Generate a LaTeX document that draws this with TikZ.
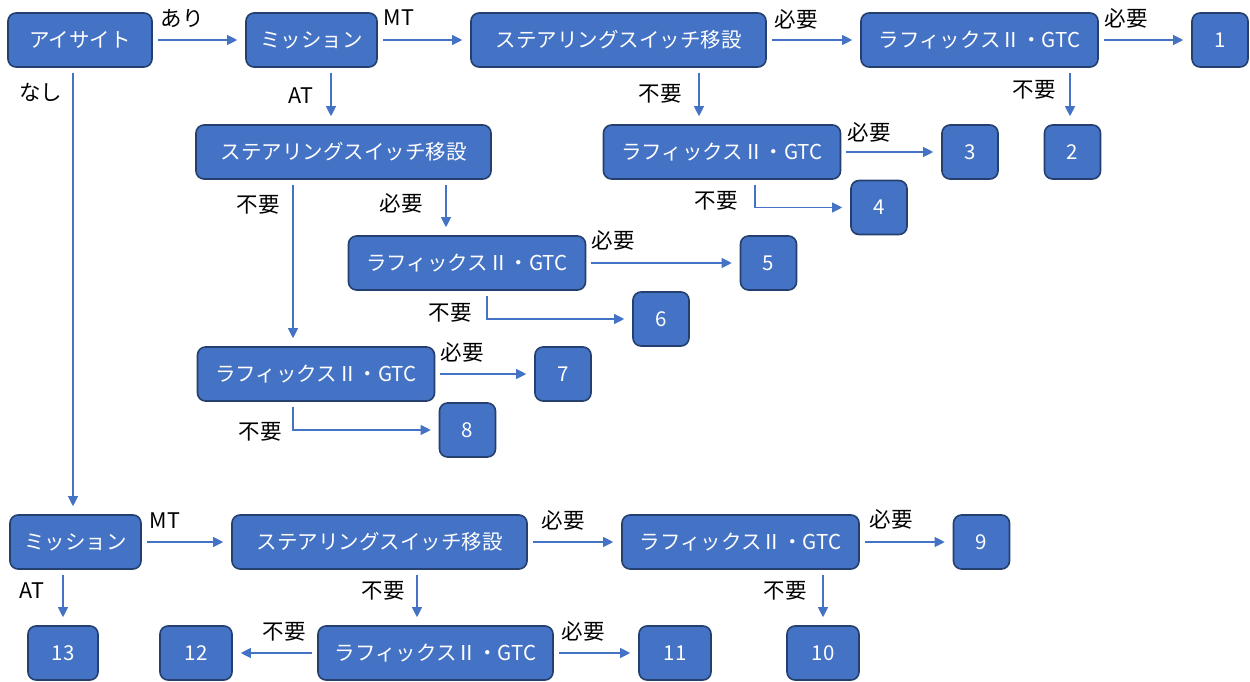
\documentclass[tikz,border=0pt]{standalone}
\usepackage{fontspec}
\setmainfont{Noto Sans CJK JP}
\usetikzlibrary{arrows.meta}
\definecolor{boxfill}{HTML}{4472C4}
\definecolor{boxline}{HTML}{25406E}
\definecolor{arrowc}{HTML}{4472C4}
\tikzset{
  box/.style={rounded corners=8, fill=boxfill, draw=boxline, line width=1.6, text=white,
    inner sep=0, minimum height=54, font=\fontsize{20.5}{24}\selectfont},
  numbox/.style={box, minimum width=56},
  wnumbox/.style={box, minimum width=72},
  rbox/.style={box, minimum width=237},
  sbox/.style={box, minimum width=295},
  mbox/.style={box, minimum width=131},
  lbl/.style={inner sep=0, text=black, font=\fontsize{21.5}{24}\selectfont},
  arr/.style={draw=arrowc, line width=1.1, -{Triangle[length=10,width=10]}, shorten <=5, shorten >=8},
}
\begin{document}
\begin{tikzpicture}[x=1pt,y=-1pt]
\useasboundingbox[fill=white] (0,0) rectangle (1250,682);
% boxes
\node[box, minimum width=144] (eye) at (80,40) {アイサイト};
\node[mbox] (m1) at (311.5,40) {ミッション};
\node[sbox] (s1) at (618.5,40) {ステアリングスイッチ移設};
\node[rbox] (r1) at (979.5,40) {ラフィックスⅡ・GTC};
\node[numbox] (n1) at (1220,40) {1};
\node[rbox] (r2) at (722,152) {ラフィックスⅡ・GTC};
\node[numbox] (n3) at (970,152) {3};
\node[numbox] (n2) at (1072.5,152) {2};
\node[numbox] (n4) at (879,207.5) {4};
\node[sbox] (s2) at (343.5,152) {ステアリングスイッチ移設};
\node[rbox] (r3) at (467,263) {ラフィックスⅡ・GTC};
\node[numbox] (n5) at (768.5,263) {5};
\node[numbox] (n6) at (661,319) {6};
\node[rbox] (r4) at (316,374) {ラフィックスⅡ・GTC};
\node[numbox] (n7) at (563,374) {7};
\node[numbox] (n8) at (467.5,430) {8};
\node[mbox] (m2) at (75.5,542) {ミッション};
\node[sbox] (s3) at (379.5,542) {ステアリングスイッチ移設};
\node[rbox] (r5) at (740.5,542) {ラフィックスⅡ・GTC};
\node[numbox] (n9) at (981.5,542) {9};
\node[wnumbox] (n10) at (823,653) {10};
\node[rbox, minimum width=235] (r6) at (435.5,653) {ラフィックスⅡ・GTC};
\node[wnumbox] (n11) at (675,653) {11};
\node[wnumbox] (n12) at (196,653) {12};
\node[box, minimum width=70] (n13) at (63,653) {13};
% connectors
\draw[arr] (eye.east) -- (m1.west);
\draw[arr] (m1.east) -- (s1.west);
\draw[arr] (s1.east) -- (r1.west);
\draw[arr] (r1.east) -- (n1.west);
\draw[arr] ([xshift=90.5]r1.south) -- ([xshift=90.5]r1.south |- n2.north);
\draw[arr] ([xshift=80.5]s1.south) -- ([xshift=80.5]s1.south |- r2.north);
\draw[arr] (r2.east) -- (n3.west);
\draw[arr] ([xshift=33]r2.south) |- (n4.west);
\draw[arr] ([xshift=19.5]m1.south) -- ([xshift=19.5]m1.south |- s2.north);
\draw[arr] ([xshift=-50.5]s2.south) -- ([xshift=-50.5]s2.south |- r4.north);
\draw[arr] ([xshift=102.5]s2.south) -- ([xshift=102.5]s2.south |- r3.north);
\draw[arr] (r3.east) -- (n5.west);
\draw[arr] ([xshift=20]r3.south) |- (n6.west);
\draw[arr] (r4.east) -- (n7.west);
\draw[arr] ([xshift=-23]r4.south) |- (n8.west);
\draw[arr] ([xshift=-7]eye.south) -- ([xshift=-7]eye.south |- m2.north);
\draw[arr] (m2.east) -- (s3.west);
\draw[arr] (n13.north |- m2.south) -- (n13.north);
\draw[arr] (s3.east) -- (r5.west);
\draw[arr] ([xshift=37.5]s3.south) -- ([xshift=37.5]s3.south |- r6.north);
\draw[arr] (r6.west) -- (n12.east);
\draw[arr] (r6.east) -- (n11.west);
\draw[arr] (r5.east) -- (n9.west);
\draw[arr] (n10.north |- r5.south) -- (n10.north);
% labels
\node[lbl] (l1) at (182,19) {あり};
\node[lbl] (l2) at (399,18) {MT};
\node[lbl] (l3) at (41,92) {なし};
\node[lbl] (l4) at (301,96) {AT};
\node[lbl] (l5) at (796,19) {必要};
\node[lbl] (l6) at (660,94) {不要};
\node[lbl] (l7) at (1126,18) {必要};
\node[lbl] (l8) at (1034,90) {不要};
\node[lbl] (l9) at (869,132) {必要};
\node[lbl] (l10) at (716,201) {不要};
\node[lbl] (l11) at (258,205) {不要};
\node[lbl] (l12) at (401,203) {必要};
\node[lbl] (l13) at (613,240) {必要};
\node[lbl] (l14) at (450,313) {不要};
\node[lbl] (l15) at (462,352) {必要};
\node[lbl] (l16) at (260,432) {不要};
\node[lbl] (l17) at (165,521) {MT};
\node[lbl] (l18) at (32,591) {AT};
\node[lbl] (l19) at (563,520) {必要};
\node[lbl] (l20) at (383,591) {不要};
\node[lbl] (l21) at (284,632) {不要};
\node[lbl] (l22) at (583,631) {必要};
\node[lbl] (l23) at (891,519) {必要};
\node[lbl] (l24) at (785,591) {不要};
\end{tikzpicture}
\end{document}
